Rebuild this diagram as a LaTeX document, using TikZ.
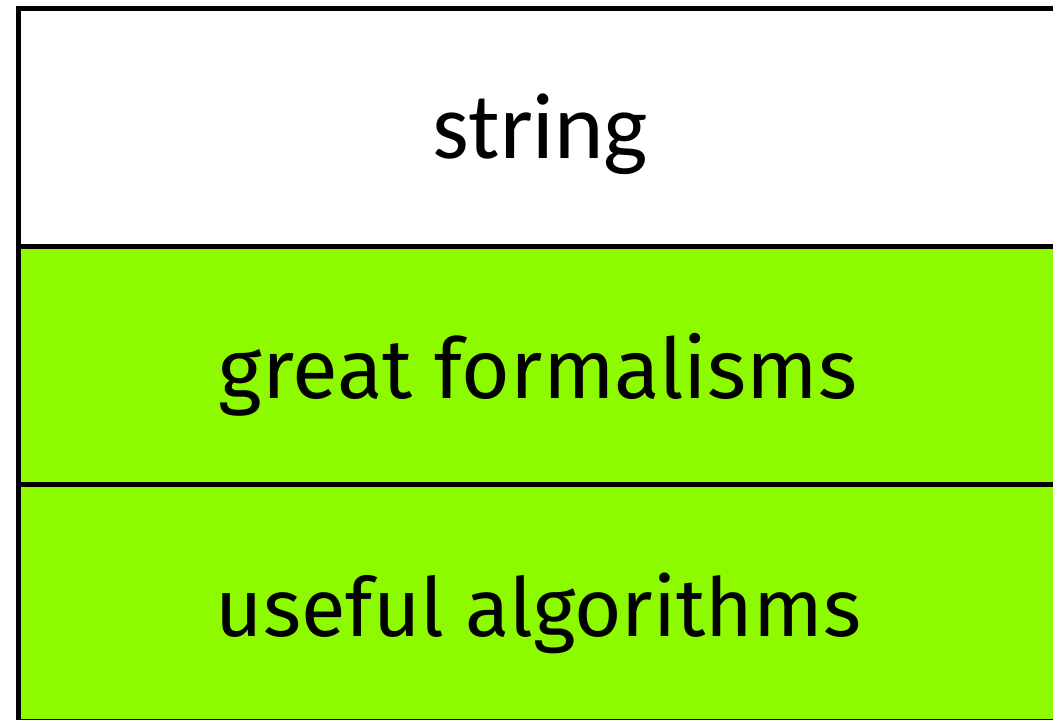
\documentclass[tikz,border=0pt]{standalone}
\usepackage{fontspec}
\setmainfont{Fira Sans}
\newfontfamily\labelfont{Carlito}
\definecolor{lime}{RGB}{142,250,0}
\begin{document}
\begin{tikzpicture}[x=1pt,y=-1pt,
  cell/.style={draw=black,line width=5pt},
  celltext/.style={anchor=base,inner sep=0pt,font=\fontsize{80}{96}\selectfont}]
\useasboundingbox (0,0) rectangle (1053,720);
\clip (0,0) rectangle (1053,720);
% three stacked cells; the table runs past the right and bottom edges
\fill[lime] (18.5,246.5) rectangle (1062,722);
\draw[cell] (18.5,8.5) rectangle (1062,246.5);
\draw[cell] (18.5,246.5) rectangle (1062,484.5);
\draw[cell] (18.5,484.5) rectangle (1062,721.5);
\node[celltext,font=\labelfont\fontsize{94}{110}\selectfont] (s) at (540.5,158) {string};
\node[celltext] (f) at (538,398) {\resizebox{638pt}{!}{great formalisms}};
\node[celltext] (a) at (538.5,636) {\resizebox{645pt}{!}{useful algorithms}};
\end{tikzpicture}
\end{document}
